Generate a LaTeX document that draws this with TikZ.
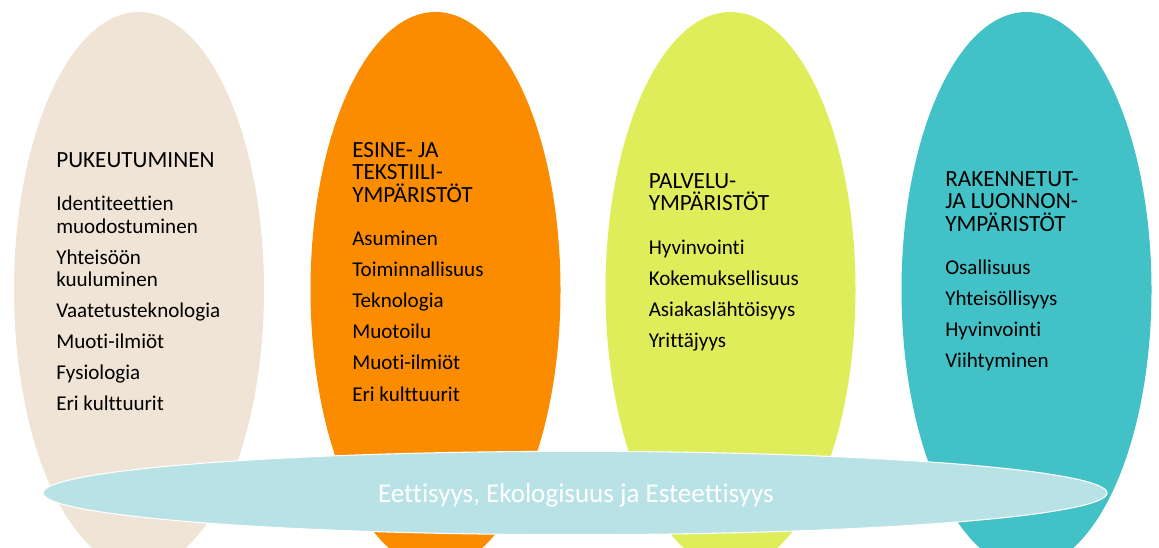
\documentclass[tikz,border=0pt]{standalone}
\usepackage{fontspec}
\setmainfont{Carlito}[Ligatures=NoCommon]
\usetikzlibrary{shapes.geometric}
\definecolor{sand}{HTML}{EFE4D6}
\definecolor{tangerine}{HTML}{FB8C00}
\definecolor{lime}{HTML}{E0ED5A}
\definecolor{lagoon}{HTML}{42C1C7}
\definecolor{frost}{HTML}{B9E2E6}
\newcommand{\heading}[1]{{\fontsize{17.4}{16.9}\selectfont #1}}
\begin{document}
\begin{tikzpicture}[x=0.75pt, y=-0.75pt,
    oval/.style={ellipse, minimum width=187.5pt, minimum height=417pt, inner sep=0pt},
    topic/.style={anchor=north west, align=left, inner sep=0pt, font=\fontsize{15.8}{16.9}\selectfont, text=black},
    groundoval/.style={ellipse, fill=frost, draw=white, line width=0.8pt, minimum width=798pt, minimum height=62.5pt, inner sep=0pt},
]
  \useasboundingbox (0,0) rectangle (1159,548);
  \clip (0,0) rectangle (1159,548);

  % Four environments
  \node[oval, fill=sand] (pukeutuminen) at (139,290) {};
  \node[oval, fill=tangerine] (esine) at (435.5,290) {};
  \node[oval, fill=lime] (palvelu) at (730.5,290) {};
  \node[oval, fill=lagoon] (rakennetut) at (1026.5,290) {};

  % Shared base
  \node[groundoval] (perusta) at (575,493) {};
  \node[anchor=base, inner sep=0pt, text=white, font=\fontsize{20.3}{24}\selectfont] (arvot) at (576,502) {Eettisyys, Ekologisuus ja Esteettisyys};

  % Contents
  \node[topic] (t1) at (56,152) {\heading{PUKEUTUMINEN}\\[15.6pt]
    Identiteettien\\ muodostuminen\\[6.4pt]
    Yhteisöön\\ kuuluminen\\[6.4pt]
    Vaatetusteknologia\\[6.4pt]
    Muoti-ilmiöt\\[6.4pt]
    Fysiologia\\[6.4pt]
    Eri kulttuurit};
  \node[topic] (t2) at (352,142) {\heading{ESINE- JA}\\ \heading{TEKSTIILI-}\\ \heading{YMPÄRISTÖT}\\[15.6pt]
    Asuminen\\[6.4pt]
    Toiminnallisuus\\[6.4pt]
    Teknologia\\[6.4pt]
    Muotoilu\\[6.4pt]
    Muoti-ilmiöt\\[6.4pt]
    Eri kulttuurit};
  \node[topic] (t3) at (648.5,173) {\heading{PALVELU-}\\ \heading{YMPÄRISTÖT}\\[15.6pt]
    Hyvinvointi\\[6.4pt]
    Kokemuksellisuus\\[6.4pt]
    Asiakaslähtöisyys\\[6.4pt]
    Yrittäjyys};
  \node[topic] (t4) at (945,171) {\heading{RAKENNETUT-}\\ \heading{JA LUONNON-}\\ \heading{YMPÄRISTÖT}\\[15.6pt]
    Osallisuus\\[6.4pt]
    Yhteisöllisyys\\[6.4pt]
    Hyvinvointi\\[6.4pt]
    Viihtyminen};
\end{tikzpicture}
\end{document}
